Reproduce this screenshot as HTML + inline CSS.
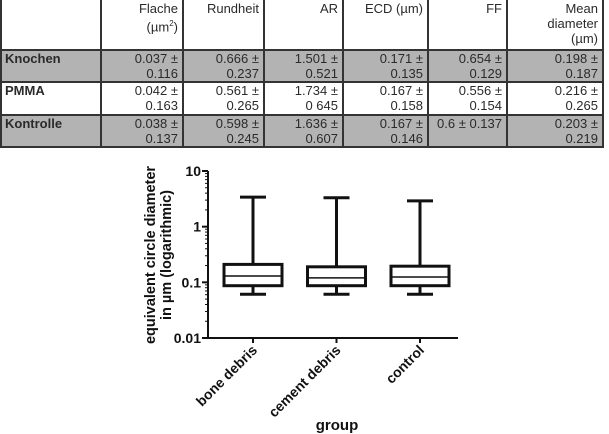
<!DOCTYPE html>
<html><head><meta charset="utf-8"><style>
body{margin:0;width:609px;height:434px;background:#fff;overflow:hidden;font-family:"Liberation Sans",sans-serif;position:relative}
.c{position:absolute;box-sizing:border-box;font-size:13px;line-height:15px;color:#2a2a2a;text-align:right;padding:1px 5px 0 5px}
.g{background:#b3b3b3}
.b{font-weight:bold;text-align:left}
.vl{position:absolute;top:0;height:147px;width:2px;background:#333}
.hl{position:absolute;left:0;width:604px;height:2px;background:#333}
</style></head><body>
<div id="table"></div>
<svg id="chart" width="609" height="434" style="position:absolute;left:0;top:0"></svg>
<script>
const colX=[0,101,183,264,343,428,507,603];
const rowY=[0,50,82,115,147];
const headers=["","Flache<br>(µm<sup style='font-size:8px'>2</sup>)","Rundheit","AR","ECD (µm)","FF","Mean<br>diameter<br>(µm)"];
const rows=[
["Knochen","0.037 ±<br>0.116","0.666 ±<br>0.237","1.501 ±<br>0.521","0.171 ±<br>0.135","0.654 ±<br>0.129","0.198 ±<br>0.187"],
["PMMA","0.042 ±<br>0.163","0.561 ±<br>0.265","1.734 ±<br>0 645","0.167 ±<br>0.158","0.556 ±<br>0.154","0.216 ±<br>0.265"],
["Kontrolle","0.038 ±<br>0.137","0.598 ±<br>0.245","1.636 ±<br>0.607","0.167 ±<br>0.146","0.6 ± 0.137","0.203 ±<br>0.219"]];
const t=document.getElementById('table');
function cell(x0,x1,y0,y1,html,cls,name){const d=document.createElement('div');d.className='c '+cls;d.style.left=x0+'px';d.style.width=(x1-x0)+'px';d.style.top=y0+'px';d.style.height=(y1-y0)+'px';d.innerHTML=html;


t.appendChild(d);}
headers.forEach((h,i)=>cell(colX[i],colX[i+1],rowY[0],rowY[1],h,'','header-cell'));
rows.forEach((r,ri)=>r.forEach((v,i)=>cell(colX[i],colX[i+1],rowY[ri+1],rowY[ri+2],v,(ri!==1?'g ':'')+(i===0?'b':''),i===0?'row-label':'value-cell')));
colX.forEach(x=>{const d=document.createElement('div');d.className='vl';d.style.left=(x===0?0:x-1)+'px';t.appendChild(d);});
rowY.slice(1).forEach(y=>{const d=document.createElement('div');d.className='hl';d.style.top=(y-1)+'px';t.appendChild(d);});

// chart data
const groups=["bone debris","cement debris","control"];
const whiskerHigh=[3.4,3.3,2.9];
const q3=[0.21,0.19,0.195];
const median=[0.13,0.12,0.125];
const q1=[0.087,0.087,0.087];
const whiskerLow=[0.061,0.061,0.061];
const yTicks=[10,1,0.1,0.01];
const yTickLabels=["10","1","0.1","0.01"];

const svg=document.getElementById('chart');const NS='http://www.w3.org/2000/svg';
const axL=208,axR=458,yTop=171,yBot=338;
const yS=v=>yBot-(Math.log10(v)+2)/3*(yBot-yTop);
const xS=i=>253+i*83.5;
function el(tag,attrs,name,txt){const e=document.createElementNS(NS,tag);for(const k in attrs)e.setAttribute(k,attrs[k]);


if(txt!==undefined)e.textContent=txt;svg.appendChild(e);return e;}
const S={stroke:'#111','stroke-width':2};
el('line',{x1:axL,y1:yTop,x2:axL,y2:yBot+1,...S},'y-axis');
el('line',{x1:axL,y1:yBot,x2:axR,y2:yBot,...S},'x-axis');
for(let d=-2;d<1;d++)for(let m=1;m<10;m++){const v=m*Math.pow(10,d);const major=m===1;
el('line',{x1:axL-(major?6:3),y1:yS(v),x2:axL,y2:yS(v),stroke:'#111','stroke-width':major?2:1},'y-tick');}
el('line',{x1:axL-6,y1:yS(10),x2:axL,y2:yS(10),...S},'y-tick');
yTicks.forEach((v,i)=>el('text',{x:axL-7,y:yS(v)+5,'text-anchor':'end','font-size':14,'font-weight':'bold',fill:'#111'},'y-tick-label',yTickLabels[i]));
const bw=29,cw=13;
groups.forEach((g,i)=>{const x=xS(i);
el('line',{x1:x,y1:yS(whiskerHigh[i]),x2:x,y2:yS(q3[i]),...S,'stroke-width':3},'whisker-upper');
el('line',{x1:x-cw,y1:yS(whiskerHigh[i]),x2:x+cw,y2:yS(whiskerHigh[i]),...S,'stroke-width':3},'cap-upper');
el('line',{x1:x,y1:yS(q1[i]),x2:x,y2:yS(whiskerLow[i]),...S,'stroke-width':3},'whisker-lower');
el('line',{x1:x-cw,y1:yS(whiskerLow[i]),x2:x+cw,y2:yS(whiskerLow[i]),...S,'stroke-width':3},'cap-lower');
el('rect',{x:x-bw,y:yS(q3[i]),width:2*bw,height:yS(q1[i])-yS(q3[i]),fill:'#fff',stroke:'#111','stroke-width':3},'box');
el('line',{x1:x-bw,y1:yS(median[i]),x2:x+bw,y2:yS(median[i]),stroke:'#111','stroke-width':1.5},'median-line');
el('line',{x1:x,y1:yBot,x2:x,y2:yBot+5,...S},'x-tick');
el('text',{x:x+5,y:yBot+13,'text-anchor':'end','font-size':14,'font-weight':'bold',fill:'#111',transform:`rotate(-45 ${x+5} ${yBot+13})`},'x-tick-label',g);
});
el('text',{x:337,y:430,'text-anchor':'middle','font-size':15,'font-weight':'bold',fill:'#111'},'x-axis-title','group');
el('text',{x:0,y:0,'text-anchor':'middle','font-size':14.5,'font-weight':'bold',fill:'#111',transform:'translate(155,255) rotate(-90)'},'y-axis-title','equivalent circle diameter');
el('text',{x:0,y:0,'text-anchor':'middle','font-size':14.5,'font-weight':'bold',fill:'#111',transform:'translate(171,255) rotate(-90)'},'y-axis-title','in µm (logarithmic)');
</script>
</body></html>
